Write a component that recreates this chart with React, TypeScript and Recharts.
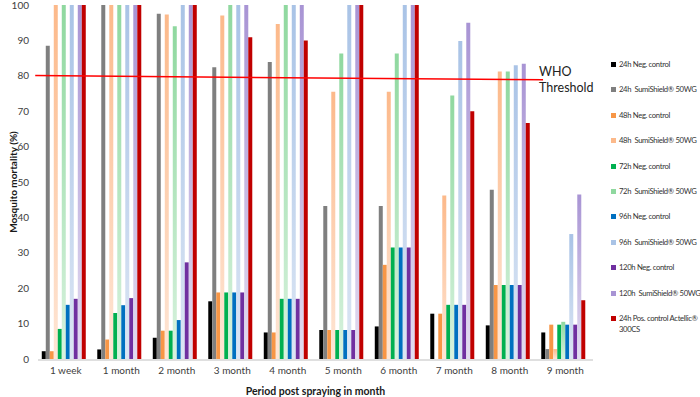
import React from 'react'
import { BarChart, Bar, XAxis, YAxis, ReferenceLine } from 'recharts'

const periods = ['1 week', '1 month', '2 month', '3 month', '4 month', '5 month', '6 month', '7 month', '8 month', '9 month']

const neg24 = [2.2, 2.7, 6, 16.3, 7.5, 8.2, 9.2, 12.8, 9.5, 7.5]
const sumi24 = [88.5, 100, 97.5, 82.4, 83.9, 43.2, 43.2, 0, 47.8, 2.8]
const neg48 = [2.2, 5.5, 8, 18.8, 7.5, 8.2, 26.6, 12.8, 20.9, 9.7]
const sumi48 = [100, 100, 97.3, 97, 94.6, 75.5, 75.5, 46.2, 81.2, 2.8]
const neg72 = [8.5, 13, 8, 18.8, 17, 8.2, 31.5, 15.3, 20.9, 9.7]
const sumi72 = [100, 100, 94, 100, 100, 86.3, 86.3, 74.4, 81.2, 10.5]
const neg96 = [15.3, 15.2, 11, 18.8, 17, 8.2, 31.5, 15.3, 20.9, 9.7]
const sumi96 = [100, 100, 100, 100, 100, 100, 100, 89.8, 83, 35.3]
const neg120 = [17, 17.2, 27.3, 18.8, 17, 8.2, 31.5, 15.3, 20.9, 9.7]
const sumi120 = [100, 100, 100, 100, 100, 100, 100, 95, 83.4, 46.5]
const pos24 = [100, 100, 100, 90.9, 90, 100, 100, 70, 66.7, 16.6]

const yTicks = [0, 10, 20, 30, 40, 50, 60, 70, 80, 90, 100]
const boundaryTicks = [0, 1, 2, 3, 4, 5, 6, 7, 8, 9, 10]
// hand-drawn WHO line, slightly sloped (x in category units)
const whoLine = [{ x: -0.05, y: 80.05 }, { x: 9.1, y: 78.85 }]

const series = [
  { key: 'neg24', name: '24h Neg. control', values: neg24, color: '#000000' },
  { key: 'sumi24', name: '24h  SumiShield® 50WG', values: sumi24, color: '#7f7f7f' },
  { key: 'neg48', name: '48h Neg. control', values: neg48, color: '#f79646' },
  { key: 'sumi48', name: '48h  SumiShield® 50WG', values: sumi48, color: '#fcb98a', fade: '#fee6d6' },
  { key: 'neg72', name: '72h Neg. control', values: neg72, color: '#00b050' },
  { key: 'sumi72', name: '72h  SumiShield® 50WG', values: sumi72, color: '#8fd89f', fade: '#d8f2de' },
  { key: 'neg96', name: '96h Neg. control', values: neg96, color: '#0070c0' },
  { key: 'sumi96', name: '96h  SumiShield® 50WG', values: sumi96, color: '#a9c3e6', fade: '#dce6f4' },
  { key: 'neg120', name: '120h Neg. control', values: neg120, color: '#7030a0' },
  { key: 'sumi120', name: '120h  SumiShield® 50WG', values: sumi120, color: '#a894d4', fade: '#e3dcf0' },
  { key: 'pos24', name: '24h Pos. control Actellic®\n300CS', values: pos24, color: '#c00000' },
]

const data = periods.map((p, i) => {
  const row: Record<string, any> = { period: p, slot: i + 0.5 }
  series.forEach((s) => (row[s.key] = s.values[i]))
  return row
})

const font = 'Lato, "Liberation Sans", sans-serif'

export default function App() {
  return (
    <div style={{ position: 'absolute', left: 0, top: 0, width: 700, height: 397, background: '#fff', fontFamily: font, overflow: 'hidden' }}>
      <BarChart width={700} height={397} data={data} margin={{ top: 5, right: 107, bottom: 0, left: 0 }} barCategoryGap="6.8%" barGap={0}>
        <defs>
          {series.filter((s) => s.fade).map((s) => (
            <linearGradient key={s.key} id={'g_' + s.key} x1="0" y1="0" x2="0" y2="1">
              <stop offset="0%" stopColor={s.color} />
              <stop offset="100%" stopColor={s.fade} />
            </linearGradient>
          ))}
        </defs>
        {/* category labels (thin axis, labels hang below) */}
        <XAxis dataKey="period" height={1} axisLine={false} tickLine={false} tickSize={5} tickMargin={3} interval={0}
          tick={{ fill: '#404040', fontSize: 10, fontFamily: font }} />
        {/* boundary ticks between periods + scale for the WHO line */}
        <XAxis xAxisId="grid" dataKey="slot" type="number" domain={[0, 10]} allowDataOverflow ticks={boundaryTicks} tick={false} height={37} tickSize={4}
          axisLine={{ stroke: '#bfbfbf' }} tickLine={{ stroke: '#bfbfbf' }}
          label={{ value: 'Period post spraying in month', position: 'insideBottom', offset: 2, style: { fill: '#1a1a1a', fontSize: 10.5, fontWeight: 700, fontFamily: font } }} />
        <YAxis width={38} domain={[0, 100]} ticks={yTicks} axisLine={false} tickLine={false} tickSize={6} tickMargin={3}
          tick={{ fill: '#404040', fontSize: 10, fontFamily: font }}
          label={{ value: 'Mosquito mortality (%)', angle: -90, position: 'center', dx: -6, style: { fill: '#1a1a1a', fontSize: 10, fontWeight: 700, fontFamily: font, textAnchor: 'middle' } }} />
        {series.map((s) => (
          <Bar key={s.key} dataKey={s.key} name={s.name} fill={s.fade ? `url(#g_${s.key})` : s.color} isAnimationActive={false} />
        ))}
        <ReferenceLine xAxisId="grid" segment={whoLine} stroke="#ff0000" strokeWidth={1.5} ifOverflow="visible" />
      </BarChart>
      <div style={{ position: 'absolute', left: 539, top: 64, fontSize: 12.5, lineHeight: '15.5px', color: '#222' }}>
        WHO<br />Threshold
      </div>
      {series.map((s, i) => (
        <div key={s.key} style={{ position: 'absolute', left: 611, top: 59 + i * 25.4, width: 88, fontSize: 7.7, letterSpacing: -0.35, lineHeight: '11px', color: '#333', display: 'flex', alignItems: 'flex-start' }}>
          <span style={{ display: 'inline-block', width: 5, height: 5, background: s.color, marginTop: 3, marginRight: 3, flex: 'none' }} />
          <span style={{ whiteSpace: 'pre' }}>{s.name}</span>
        </div>
      ))}
    </div>
  )
}
